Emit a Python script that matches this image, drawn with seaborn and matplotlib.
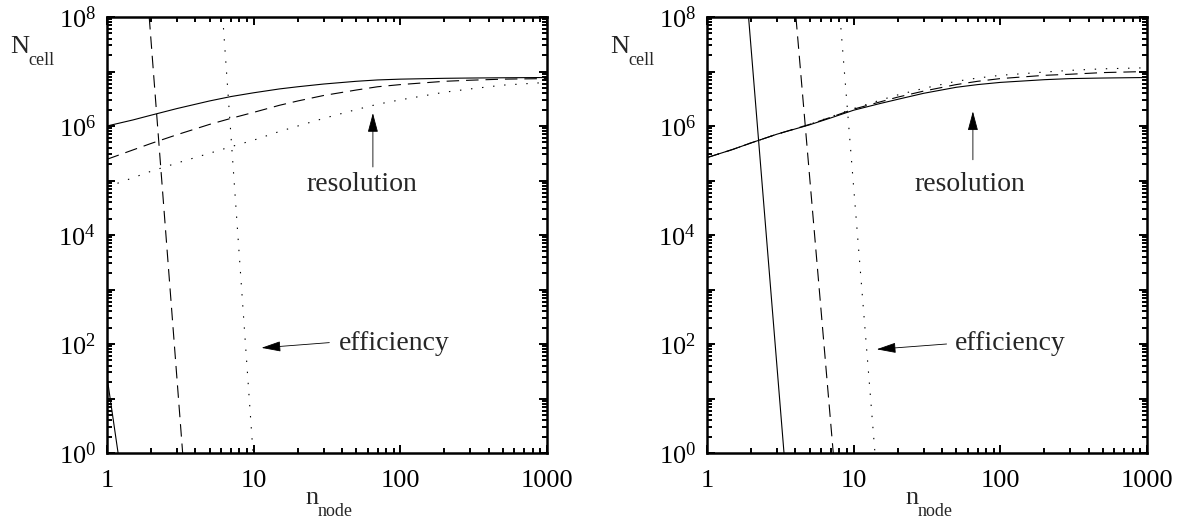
import numpy as np
import pandas as pd
import seaborn as sns
import matplotlib
matplotlib.use("Agg")
import matplotlib.pyplot as plt
from matplotlib import ticker

# resolution curves, values
res_n = [1, 1.5, 2, 3, 5, 7, 10, 15, 20, 30, 50, 70, 100, 200, 300, 500, 1000]

left_sol_N = [1.0e6, 1.29e6, 1.58e6, 2.09e6, 2.88e6, 3.47e6, 4.07e6, 4.79e6, 5.25e6,
              5.89e6, 6.61e6, 7.0e6, 7.24e6, 7.5e6, 7.59e6, 7.67e6, 7.76e6]
left_dash_N = [2.45e5, 3.63e5, 4.79e5, 6.92e5, 1.07e6, 1.38e6, 1.78e6, 2.4e6, 2.88e6,
               3.63e6, 4.57e6, 5.25e6, 5.75e6, 6.61e6, 6.92e6, 7.24e6, 7.41e6]
left_dot_N = [7.6e4, 1.12e5, 1.48e5, 2.09e5, 3.16e5, 4.17e5, 5.5e5, 7.94e5, 1.0e6,
              1.38e6, 2.0e6, 2.51e6, 3.02e6, 4.17e6, 4.79e6, 5.62e6, 6.31e6]

right_sol_N = [2.63e5, 3.72e5, 4.9e5, 7.08e5, 1.05e6, 1.41e6, 1.95e6, 2.57e6, 3.09e6,
               3.98e6, 5.13e6, 5.75e6, 6.31e6, 7.08e6, 7.41e6, 7.59e6, 7.76e6]
right_dash_N = [2.63e5, 3.72e5, 4.9e5, 7.08e5, 1.07e6, 1.45e6, 2.04e6, 2.75e6, 3.39e6,
                4.37e6, 5.75e6, 6.61e6, 7.41e6, 8.51e6, 8.91e6, 9.55e6, 1.0e7]
right_dot_N = [2.63e5, 3.72e5, 4.9e5, 7.08e5, 1.07e6, 1.48e6, 2.09e6, 2.95e6, 3.72e6,
               4.9e6, 6.61e6, 7.59e6, 8.51e6, 9.77e6, 1.05e7, 1.12e7, 1.17e7]

# efficiency lines: n where they leave the top and bottom of the frame
left_eff_sol_n = [1.0, 1.19]
left_eff_sol_N = [25, 1]
left_eff_dash_n = [1.94, 3.28]
left_eff_dot_n = [6.15, 9.9]
right_eff_sol_n = [1.92, 3.35]
right_eff_dash_n = [4.04, 7.26]
right_eff_dot_n = [8.07, 13.97]
eff_N = [1e8, 1]

sns.set_style("ticks")
plt.rcParams["font.family"] = ["Liberation Serif", "DejaVu Serif"]
plt.rcParams["mathtext.fontset"] = "custom"
plt.rcParams["mathtext.rm"] = "Liberation Serif"
plt.rcParams["lines.scale_dashes"] = False

DASH = (0, (9, 5))
DOT = (0, (1, 7))
FS = 19

fig = plt.figure(figsize=(11.85, 5.25), dpi=100)
W, H = 1185, 525


def draw(ax, curves):
    for n, N, ls in curves:
        df = pd.DataFrame({"n": n, "N": N})
        sns.lineplot(data=df, x="n", y="N", ax=ax, color="black", lw=0.8,
                     linestyle=ls, estimator=None, sort=False)


def style(ax, left_px):
    ax.set_xscale("log")
    ax.set_yscale("log")
    ax.set_xlim(1, 1000)
    ax.set_ylim(1, 1e8)
    ax.set_xlabel("")
    ax.set_ylabel("")
    ax.xaxis.set_major_locator(ticker.FixedLocator([1, 10, 100, 1000]))
    ax.xaxis.set_major_formatter(ticker.FixedFormatter(["1", "10", "100", "1000"]))
    ax.xaxis.set_minor_locator(ticker.LogLocator(base=10, subs=np.arange(2, 10), numticks=20))
    ax.xaxis.set_minor_formatter(ticker.NullFormatter())
    ax.yaxis.set_major_locator(ticker.FixedLocator([10.0 ** k for k in range(9)]))
    ax.yaxis.set_major_formatter(ticker.FuncFormatter(
        lambda v, p: r"$\mathregular{10^{%d}}$" % round(np.log10(v)) if round(np.log10(v)) % 2 == 0 else ""))
    ax.yaxis.set_minor_locator(ticker.LogLocator(base=10, subs=np.arange(2, 10), numticks=20))
    ax.yaxis.set_minor_formatter(ticker.NullFormatter())
    ax.tick_params(which="both", direction="in", top=True, right=True, width=1.4,
                   labelsize=FS, color="black", labelcolor="black")
    ax.tick_params(which="major", length=5.8)
    ax.tick_params(which="minor", length=3.6)
    ax.tick_params(axis="x", pad=12)
    ax.tick_params(axis="y", pad=8)
    for s in ax.spines.values():
        s.set_linewidth(1.8)
        s.set_color("black")
    # axis labels with subscripts
    fig.text((left_px - 97) / W, 1 - 53 / H, "N", fontsize=FS, ha="left", va="baseline")
    fig.text((left_px - 79) / W, 1 - 65 / H, "cell", fontsize=13, ha="left", va="baseline")
    fig.text((left_px + 198) / W, 1 - 504 / H, "n", fontsize=FS, ha="left", va="baseline")
    fig.text((left_px + 211) / W, 1 - 516 / H, "node", fontsize=13, ha="left", va="baseline")


arrow = dict(arrowstyle="-|>,head_length=0.6,head_width=0.16", lw=0.6, color="black",
             mutation_scale=20, shrinkA=0, shrinkB=0)

# left panel
ax1 = fig.add_axes([107 / W, 1 - 453 / H, 440 / W, 436 / H])
draw(ax1, [(res_n, left_sol_N, "-"), (res_n, left_dash_N, DASH), (res_n, left_dot_N, DOT),
           (left_eff_sol_n, left_eff_sol_N, "-"), (left_eff_dash_n, eff_N, DASH),
           (left_eff_dot_n, eff_N, DOT)])
style(ax1, 107)
ax1.annotate("", xy=(65, 1.73e6), xytext=(65, 1.77e5), arrowprops=arrow)
ax1.text(55, 8.3e4, "resolution", fontsize=20, ha="center", va="center")
ax1.annotate("", xy=(11.3, 85), xytext=(32.8, 106), arrowprops=arrow)
ax1.text(38, 104, "efficiency", fontsize=20, ha="left", va="center")

# right panel
ax2 = fig.add_axes([707 / W, 1 - 453 / H, 440 / W, 436 / H])
draw(ax2, [(res_n, right_sol_N, "-"), (res_n, right_dash_N, DASH), (res_n, right_dot_N, DOT),
           (right_eff_sol_n, eff_N, "-"), (right_eff_dash_n, eff_N, DASH),
           (right_eff_dot_n, eff_N, DOT)])
style(ax2, 707)
ax2.annotate("", xy=(65, 1.86e6), xytext=(65, 2.4e5), arrowprops=arrow)
ax2.text(62, 8.3e4, "resolution", fontsize=20, ha="center", va="center")
ax2.annotate("", xy=(14.35, 80), xytext=(43, 100), arrowprops=arrow)
ax2.text(49, 104, "efficiency", fontsize=20, ha="left", va="center")

fig.savefig("out.png", dpi=100)
